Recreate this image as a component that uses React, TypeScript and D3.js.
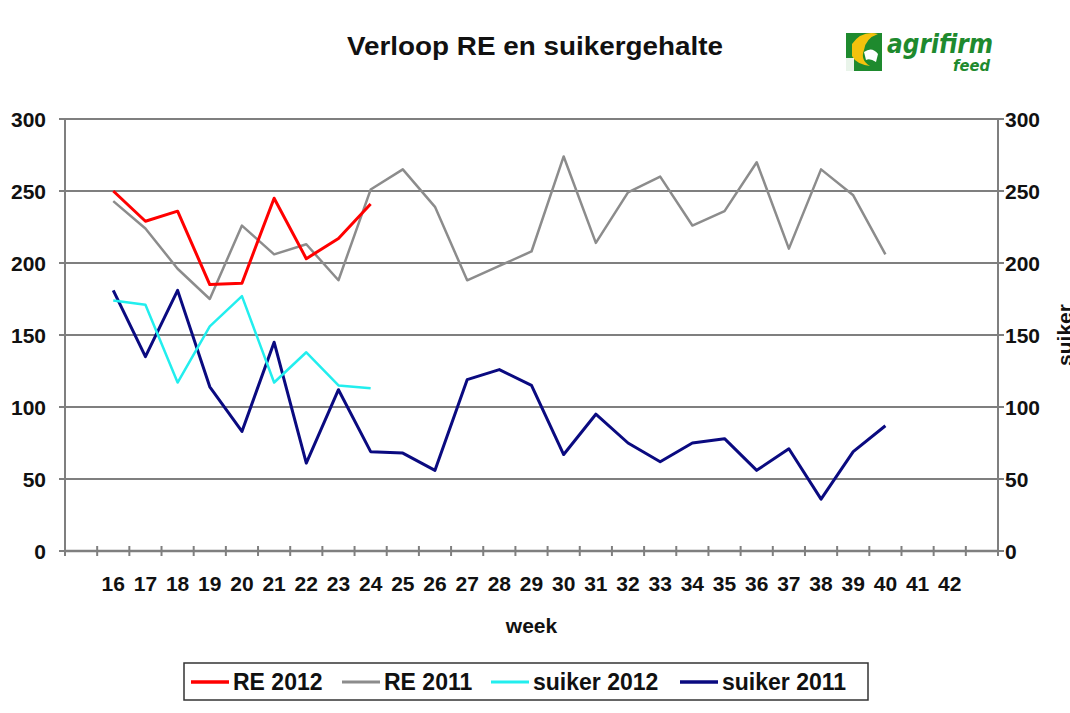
import React from "react"
import * as d3 from "d3"

// categories: Excel-style axis with an empty slot on each side
const weeks = ["16", "17", "18", "19", "20", "21", "22", "23", "24", "25", "26", "27", "28", "29", "30", "31", "32", "33", "34", "35", "36", "37", "38", "39", "40", "41", "42"]
const categories = ["", ...weeks, " "]
const yTicks = [0, 50, 100, 150, 200, 250, 300]

// weeks 16..24
const re2012 = [250, 229, 236, 185, 186, 245, 203, 217, 241]
// weeks 16..40
const re2011 = [243, 224, 196, 175, 226, 206, 213, 188, 251, 265, 239, 188, 198, 208, 274, 214, 249, 260, 226, 236, 270, 210, 265, 247, 206]
// weeks 16..24
const suiker2012 = [174, 171, 117, 156, 177, 117, 138, 115, 113]
// weeks 16..40
const suiker2011 = [181, 135, 181, 114, 83, 145, 61, 112, 69, 68, 56, 119, 126, 115, 67, 95, 75, 62, 75, 78, 56, 71, 36, 69, 87]

const seriesNames = ["RE 2012", "RE 2011", "suiker 2012", "suiker 2011"]
const seriesColors = ["#ff0000", "#8c8c8c", "#22eeee", "#0a0a80"]
const seriesWidths = [3, 2.5, 2.5, 3]
const seriesValues = [re2012, re2011, suiker2012, suiker2011]

const W = 1070
const H = 713
const M = { top: 119, right: 72, bottom: 162, left: 65 }
const FONT = "'Liberation Sans', Arial, sans-serif"
const AXIS = "#7f7f7f"

// legend item x positions (layout only)
const LEGEND_X = [191, 342, 491, 680]

export default function App() {
  const x = d3.scaleBand().domain(categories).range([M.left, W - M.right]).padding(0)
  const y = d3.scaleLinear().domain([0, 300]).range([H - M.bottom, M.top])
  const cx = (w: string) => (x(w) ?? 0) + x.bandwidth() / 2

  const line = d3
    .line<number>()
    .x((_, i) => cx(weeks[i]))
    .y((d) => y(d))

  const x0 = M.left
  const x1 = W - M.right
  const y0 = y(0)
  const boundaries = d3.range(categories.length + 1).map((k) => M.left + k * x.bandwidth())

  return (
    <svg
      width={W}
      height={H}
      viewBox={`0 0 ${W} ${H}`}
      style={{ position: "absolute", left: 0, top: 0, background: "#fff" }}
      fontFamily={FONT}
    >
      <rect width={W} height={H} fill="#fff" />

      {/* title */}
      <text x={535} y={55} textAnchor="middle" fontSize={25} fontWeight="bold" fill="#111" textLength={376} lengthAdjust="spacingAndGlyphs">
        Verloop RE en suikergehalte
      </text>

      {/* logo */}
      <g>
        <rect x={846} y={33} width={36} height={38} fill="#1e8a2e" />
        <path d="M852,44 Q862,30 878,34 Q866,38 864,50 Q860,60 870,66 Q856,64 852,56 Z" fill="#f4c20d" />
        <path d="M864,52 Q872,46 878,54 L876,62 Q870,58 866,60 Z" fill="#fff" />
        <rect x={846} y={58} width={8} height={13} fill="#fff" opacity={0.9} />
        <text x={887} y={53} fontSize={26} fontWeight="bold" fontStyle="italic" fill="#1e8a2e" fontFamily="'DejaVu Sans', sans-serif" textLength={106} lengthAdjust="spacingAndGlyphs">
          agrifirm
        </text>
        <text x={953} y={71} fontSize={15} fontWeight="bold" fontStyle="italic" fill="#1e8a2e" fontFamily="'DejaVu Sans', sans-serif" textLength={37} lengthAdjust="spacingAndGlyphs">
          feed
        </text>
      </g>

      {/* gridlines */}
      {yTicks.filter((t) => t > 0).map((t) => (
        <line key={t} x1={x0} x2={x1} y1={y(t)} y2={y(t)} stroke={AXIS} strokeWidth={2} />
      ))}

      {/* axes */}
      <line x1={x0} x2={x0} y1={M.top} y2={y0} stroke={AXIS} strokeWidth={2} />
      <line x1={x1} x2={x1} y1={M.top} y2={y0} stroke={AXIS} strokeWidth={2} />
      <line x1={x0} x2={x1} y1={y0} y2={y0} stroke={AXIS} strokeWidth={2.5} />
      {yTicks.map((t) => (
        <g key={t}>
          <line x1={x0 - 6} x2={x0} y1={y(t)} y2={y(t)} stroke={AXIS} strokeWidth={2} />
          <line x1={x1} x2={x1 + 6} y1={y(t)} y2={y(t)} stroke={AXIS} strokeWidth={2} />
          <text x={46} y={y(t)} dy="0.36em" textAnchor="end" fontSize={21} fontWeight="bold" fill="#111">
            {t}
          </text>
          <text x={1005} y={y(t)} dy="0.36em" textAnchor="start" fontSize={21} fontWeight="bold" fill="#111">
            {t}
          </text>
        </g>
      ))}
      {boundaries.map((bx, i) => (
        <line key={i} x1={bx} x2={bx} y1={y0 - 5} y2={y0 + 5} stroke={AXIS} strokeWidth={2} />
      ))}
      {weeks.map((w) => (
        <text key={w} x={cx(w)} y={591} textAnchor="middle" fontSize={21} fontWeight="bold" fill="#111">
          {w}
        </text>
      ))}
      <text x={(x0 + x1) / 2} y={633} textAnchor="middle" fontSize={21} fontWeight="bold" fill="#111">
        week
      </text>
      <text transform={`translate(1072,${(M.top + y0) / 2}) rotate(-90)`} textAnchor="middle" fontSize={21} fontWeight="bold" fill="#111">
        suiker
      </text>

      {/* series */}
      {seriesValues.map((vals, i) => (
        <path
          key={seriesNames[i]}
          d={line(vals) ?? ""}
          fill="none"
          stroke={seriesColors[i]}
          strokeWidth={seriesWidths[i]}
          strokeLinejoin="round"
        />
      )).reverse()}

      {/* legend */}
      <rect x={184} y={663} width={684} height={37} fill="#fff" stroke="#333" strokeWidth={1.5} />
      {seriesNames.map((name, i) => (
        <g key={name}>
          <line x1={LEGEND_X[i]} x2={LEGEND_X[i] + 38} y1={682} y2={682} stroke={seriesColors[i]} strokeWidth={seriesWidths[i] + 0.5} />
          <text x={LEGEND_X[i] + 42} y={682} dy="0.36em" fontSize={23} fontWeight="bold" fill="#111">
            {name}
          </text>
        </g>
      ))}
    </svg>
  )
}
